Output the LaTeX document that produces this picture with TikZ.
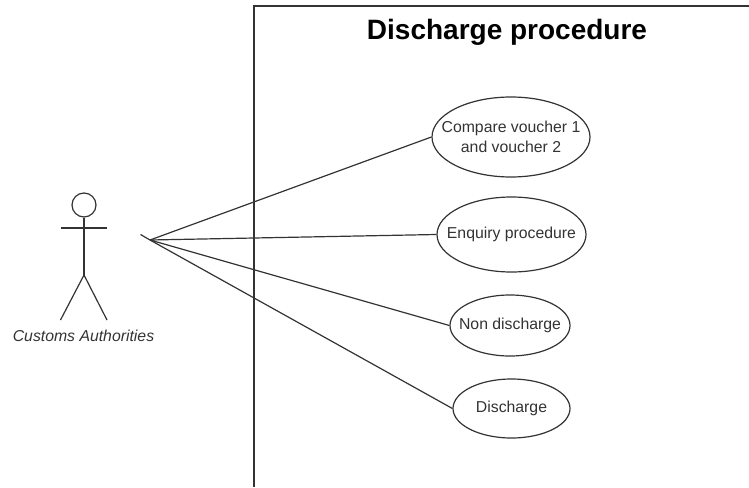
\documentclass[tikz,border=0pt]{standalone}
\usepackage{fontspec}
\setmainfont{Liberation Sans}
\usetikzlibrary{shapes.geometric}
\definecolor{ink}{gray}{0.2}
\tikzset{
  x=1pt,y=-1pt,
  usecase/.style={draw=ink,line width=1.2pt,ellipse,inner xsep=-30pt,inner ysep=-5pt,align=center,text=ink,font=\fontsize{15.8}{20}\selectfont},
  link/.style={draw=ink,line width=1.2pt},
  frameline/.style={draw=black!80,line width=1.3pt},
  actorline/.style={draw=ink,line width=1.2pt},
}
\begin{document}
\begin{tikzpicture}
\useasboundingbox (0,0) rectangle (749,487);
\coordinate (fb) at (254,487);
\coordinate (fc) at (254,6);
\coordinate (fr) at (749,6);
\draw[frameline] (fb) -- (fc) -- (fr);
\node[font=\bfseries\fontsize{28}{32}\selectfont,text=black] (title) at (507,32) {Discharge procedure};
\node[usecase,minimum width=158pt,minimum height=80pt] (e1) at (511,137) {Compare voucher 1\\and voucher 2};
\node[usecase,minimum width=149pt,minimum height=75pt] (e2) at (511.5,234.5) {Enquiry procedure};
\node[usecase,minimum width=120pt,minimum height=61pt] (e3) at (510,325.5) {Non discharge};
\node[usecase,minimum width=117pt,minimum height=59pt] (e4) at (511.5,408.5) {Discharge};
\node[draw=ink,line width=1.2pt,circle,minimum size=24pt,inner sep=0pt] (head) at (84,205) {};
\coordinate (hip) at (84,275);
\coordinate (armL) at (60.5,228);
\coordinate (armR) at (107,228);
\coordinate (footL) at (60.5,320);
\coordinate (footR) at (107,320);
\draw[actorline] (head.south) -- (hip);
\draw[actorline] (armL) -- (armR);
\draw[actorline] (footL) -- (hip) -- (footR);
\node[font=\itshape\fontsize{15.8}{18}\selectfont,text=ink] (actor) at (83.5,336) {Customs Authorities};
\coordinate (hub) at (150,240);
\coordinate (stub) at (140.5,234.5);
\draw[link] (stub) -- (hub);
\draw[link] (hub) -- (e1.west);
\draw[link] (hub) -- (e2.west);
\draw[link] (hub) -- (e3.west);
\draw[link] (hub) -- (e4.west);
\end{tikzpicture}
\end{document}
